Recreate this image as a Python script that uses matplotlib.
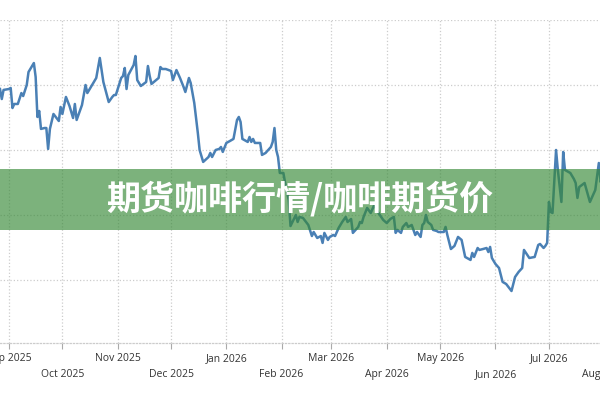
import matplotlib
matplotlib.use("Agg")
import matplotlib.pyplot as plt
import matplotlib.dates as mdates
from matplotlib.patches import Rectangle
import numpy as np

# coffee futures price
dates = [
    "2025-08-27", "2025-08-28", "2025-08-29", "2025-09-01", "2025-09-02", "2025-09-03",
    "2025-09-04", "2025-09-06", "2025-09-08", "2025-09-09", "2025-09-11", "2025-09-12",
    "2025-09-15", "2025-09-16", "2025-09-17", "2025-09-18", "2025-09-19", "2025-09-21",
    "2025-09-22", "2025-09-23", "2025-09-24", "2025-09-26", "2025-09-29", "2025-09-30",
    "2025-10-01", "2025-10-03", "2025-10-05", "2025-10-07", "2025-10-08", "2025-10-09",
    "2025-10-12", "2025-10-14", "2025-10-15", "2025-10-20", "2025-10-22", "2025-10-24",
    "2025-10-27", "2025-10-29", "2025-10-30", "2025-10-31", "2025-11-03", "2025-11-04",
    "2025-11-05", "2025-11-06", "2025-11-07", "2025-11-10", "2025-11-11", "2025-11-12",
    "2025-11-14", "2025-11-17", "2025-11-18", "2025-11-19", "2025-11-20", "2025-11-24",
    "2025-11-25", "2025-11-26", "2025-11-28", "2025-12-01", "2025-12-02", "2025-12-04",
    "2025-12-06", "2025-12-08", "2025-12-09", "2025-12-11", "2025-12-12", "2025-12-14",
    "2025-12-16", "2025-12-17", "2025-12-19", "2025-12-22", "2025-12-23", "2025-12-24",
    "2025-12-26", "2025-12-28", "2025-12-29", "2025-12-30", "2026-01-01", "2026-01-03",
    "2026-01-05", "2026-01-07", "2026-01-08", "2026-01-09", "2026-01-10", "2026-01-13",
    "2026-01-14", "2026-01-15", "2026-01-16", "2026-01-17", "2026-01-20", "2026-01-21",
    "2026-01-23", "2026-01-26", "2026-01-27", "2026-01-28", "2026-01-29", "2026-01-30",
    "2026-01-31", "2026-02-02", "2026-02-03", "2026-02-05", "2026-02-06", "2026-02-09",
    "2026-02-10", "2026-02-11", "2026-02-13", "2026-02-16", "2026-02-18", "2026-02-19",
    "2026-02-21", "2026-02-23", "2026-02-24", "2026-02-25", "2026-02-27", "2026-02-28",
    "2026-03-02", "2026-03-03", "2026-03-05", "2026-03-07", "2026-03-09", "2026-03-10",
    "2026-03-12", "2026-03-13", "2026-03-16", "2026-03-17", "2026-03-18", "2026-03-19",
    "2026-03-21", "2026-03-23", "2026-03-25", "2026-03-27", "2026-03-30", "2026-04-01",
    "2026-04-03", "2026-04-05", "2026-04-06", "2026-04-07", "2026-04-09", "2026-04-10",
    "2026-04-12", "2026-04-13", "2026-04-15", "2026-04-17", "2026-04-18", "2026-04-20",
    "2026-04-21", "2026-04-22", "2026-04-23", "2026-04-24", "2026-04-26", "2026-04-27",
    "2026-04-29", "2026-04-30", "2026-05-03", "2026-05-04", "2026-05-05", "2026-05-07",
    "2026-05-09", "2026-05-11", "2026-05-13", "2026-05-15", "2026-05-18", "2026-05-19",
    "2026-05-20", "2026-05-22", "2026-05-23", "2026-05-25", "2026-05-27", "2026-05-28",
    "2026-05-29", "2026-05-30", "2026-06-01", "2026-06-03", "2026-06-05", "2026-06-07",
    "2026-06-10", "2026-06-12", "2026-06-14", "2026-06-16", "2026-06-17", "2026-06-20",
    "2026-06-23", "2026-06-25", "2026-06-26", "2026-06-28", "2026-06-29", "2026-06-30",
    "2026-07-01", "2026-07-02", "2026-07-03", "2026-07-04", "2026-07-05", "2026-07-06",
    "2026-07-08", "2026-07-09", "2026-07-10", "2026-07-13", "2026-07-15", "2026-07-16",
    "2026-07-17", "2026-07-18", "2026-07-21", "2026-07-24", "2026-07-27", "2026-07-29",
    "2026-07-30", "2026-07-31",
]
prices = [
    346.9, 339.2, 346.2, 346.9, 347.7, 332.3,
    335.4, 335.4, 343.8, 341.5, 350.0, 360.0,
    366.9, 356.2, 325.4, 330.0, 316.2, 316.9,
    316.9, 300.8, 316.2, 327.7, 322.3, 333.1,
    327.7, 340.8, 333.8, 324.6, 335.4, 323.1,
    334.6, 350.0, 343.8, 355.4, 370.8, 352.3,
    336.9, 340.8, 342.3, 342.3, 355.4, 356.9,
    363.1, 346.9, 357.7, 365.4, 372.3, 353.8,
    349.2, 352.3, 364.6, 356.9, 350.8, 355.4,
    363.8, 362.3, 362.3, 360.8, 353.8, 361.5,
    355.4, 348.5, 344.6, 355.4, 351.5, 336.2,
    313.1, 300.0, 290.8, 294.6, 297.7, 294.6,
    300.0, 300.8, 302.3, 298.5, 305.4, 306.9,
    308.5, 323.1, 325.4, 321.5, 308.5, 306.2,
    310.0, 306.2, 308.5, 305.4, 305.4, 296.2,
    297.7, 302.3, 306.2, 316.9, 300.0, 294.6,
    282.3, 282.3, 274.6, 261.5, 241.5, 250.0,
    244.6, 248.5, 247.7, 242.3, 233.8, 236.9,
    232.3, 233.8, 228.5, 236.2, 230.8, 233.1,
    234.6, 233.8, 240.0, 244.6, 248.5, 244.6,
    246.9, 236.2, 240.8, 244.6, 243.8, 248.5,
    255.4, 251.5, 257.7, 252.3, 246.2, 243.8,
    246.9, 248.5, 236.2, 238.5, 236.2, 240.8,
    243.8, 240.8, 242.3, 234.6, 236.9, 233.1,
    242.3, 243.8, 250.0, 244.6, 242.3, 238.5,
    237.7, 236.9, 236.9, 240.8, 234.6, 223.8,
    226.2, 233.1, 230.8, 217.7, 215.4, 220.8,
    217.7, 224.6, 223.1, 223.8, 224.6, 221.5,
    225.4, 216.9, 212.3, 209.2, 198.5, 196.9,
    191.5, 202.3, 206.2, 209.2, 223.1, 216.9,
    217.7, 226.9, 227.7, 224.6, 226.2, 228.5,
    260.0, 252.3, 251.5, 275.4, 300.0, 284.6,
    260.0, 298.5, 284.6, 282.3, 277.7, 274.6,
    263.1, 271.5, 274.6, 260.0, 269.2, 290.0,
    275.4, 278.5,
]
y_ticks = [200, 250, 300, 350, 400]
title = "期货咖啡行情/咖啡期货价"

x = np.array(dates, dtype="datetime64[D]")

fig = plt.figure(figsize=(6, 4), dpi=100)
fig.patch.set_facecolor("white")
# axes runs a little past the right edge, like the cropped original
ax = fig.add_axes([0.0, 0.1425, 1.0337, 0.8075])
ax.plot(x, prices, color="#4a80b5", lw=1.8, solid_joinstyle="round")

ax.set_xlim(np.datetime64("2025-08-27"), np.datetime64("2026-08-10"))
ax.set_ylim(151.5, 400)
ax.set_yticks(y_ticks)
ax.tick_params(axis="y", left=False, labelleft=False)

ax.xaxis.set_major_locator(mdates.MonthLocator(bymonth=[1, 3, 5, 7, 9, 11]))
ax.xaxis.set_minor_locator(mdates.MonthLocator(bymonth=[2, 4, 6, 8, 10, 12]))
ax.xaxis.set_major_formatter(mdates.DateFormatter("%b %Y"))
ax.xaxis.set_minor_formatter(mdates.DateFormatter("%b %Y"))
ax.tick_params(axis="x", which="both", length=4, width=0.8, color="#aaaaaa",
               labelsize=7.5, labelcolor="#333333")
ax.tick_params(axis="x", which="major", pad=3.5)
ax.tick_params(axis="x", which="minor", pad=15)
for lab in ax.get_xticklabels(which="both"):
    lab.set_family("Open Sans")

ax.grid(True, axis="x", which="both", color="#cccccc", ls=":", lw=0.9)
ax.grid(True, axis="y", which="major", color="#cccccc", ls=":", lw=0.9)
ax.set_axisbelow(True)
for side in ["left", "right", "top"]:
    ax.spines[side].set_visible(False)
ax.spines["bottom"].set_color("#cccccc")
ax.spines["bottom"].set_linestyle(":")
ax.spines["bottom"].set_linewidth(0.9)

# green banner with the title
band = Rectangle((0, 0.425), 1, 0.1525, transform=fig.transFigure,
                 facecolor="#368936", alpha=0.65, edgecolor="none", zorder=5)
fig.add_artist(band)
fig.text(0.5, 0.5025, title, ha="center", va="center", color="white",
         fontsize=24.5, fontweight="black",
         family=["Noto Sans CJK SC", "DejaVu Sans"], zorder=6)

fig.savefig("out.png", dpi=100)
